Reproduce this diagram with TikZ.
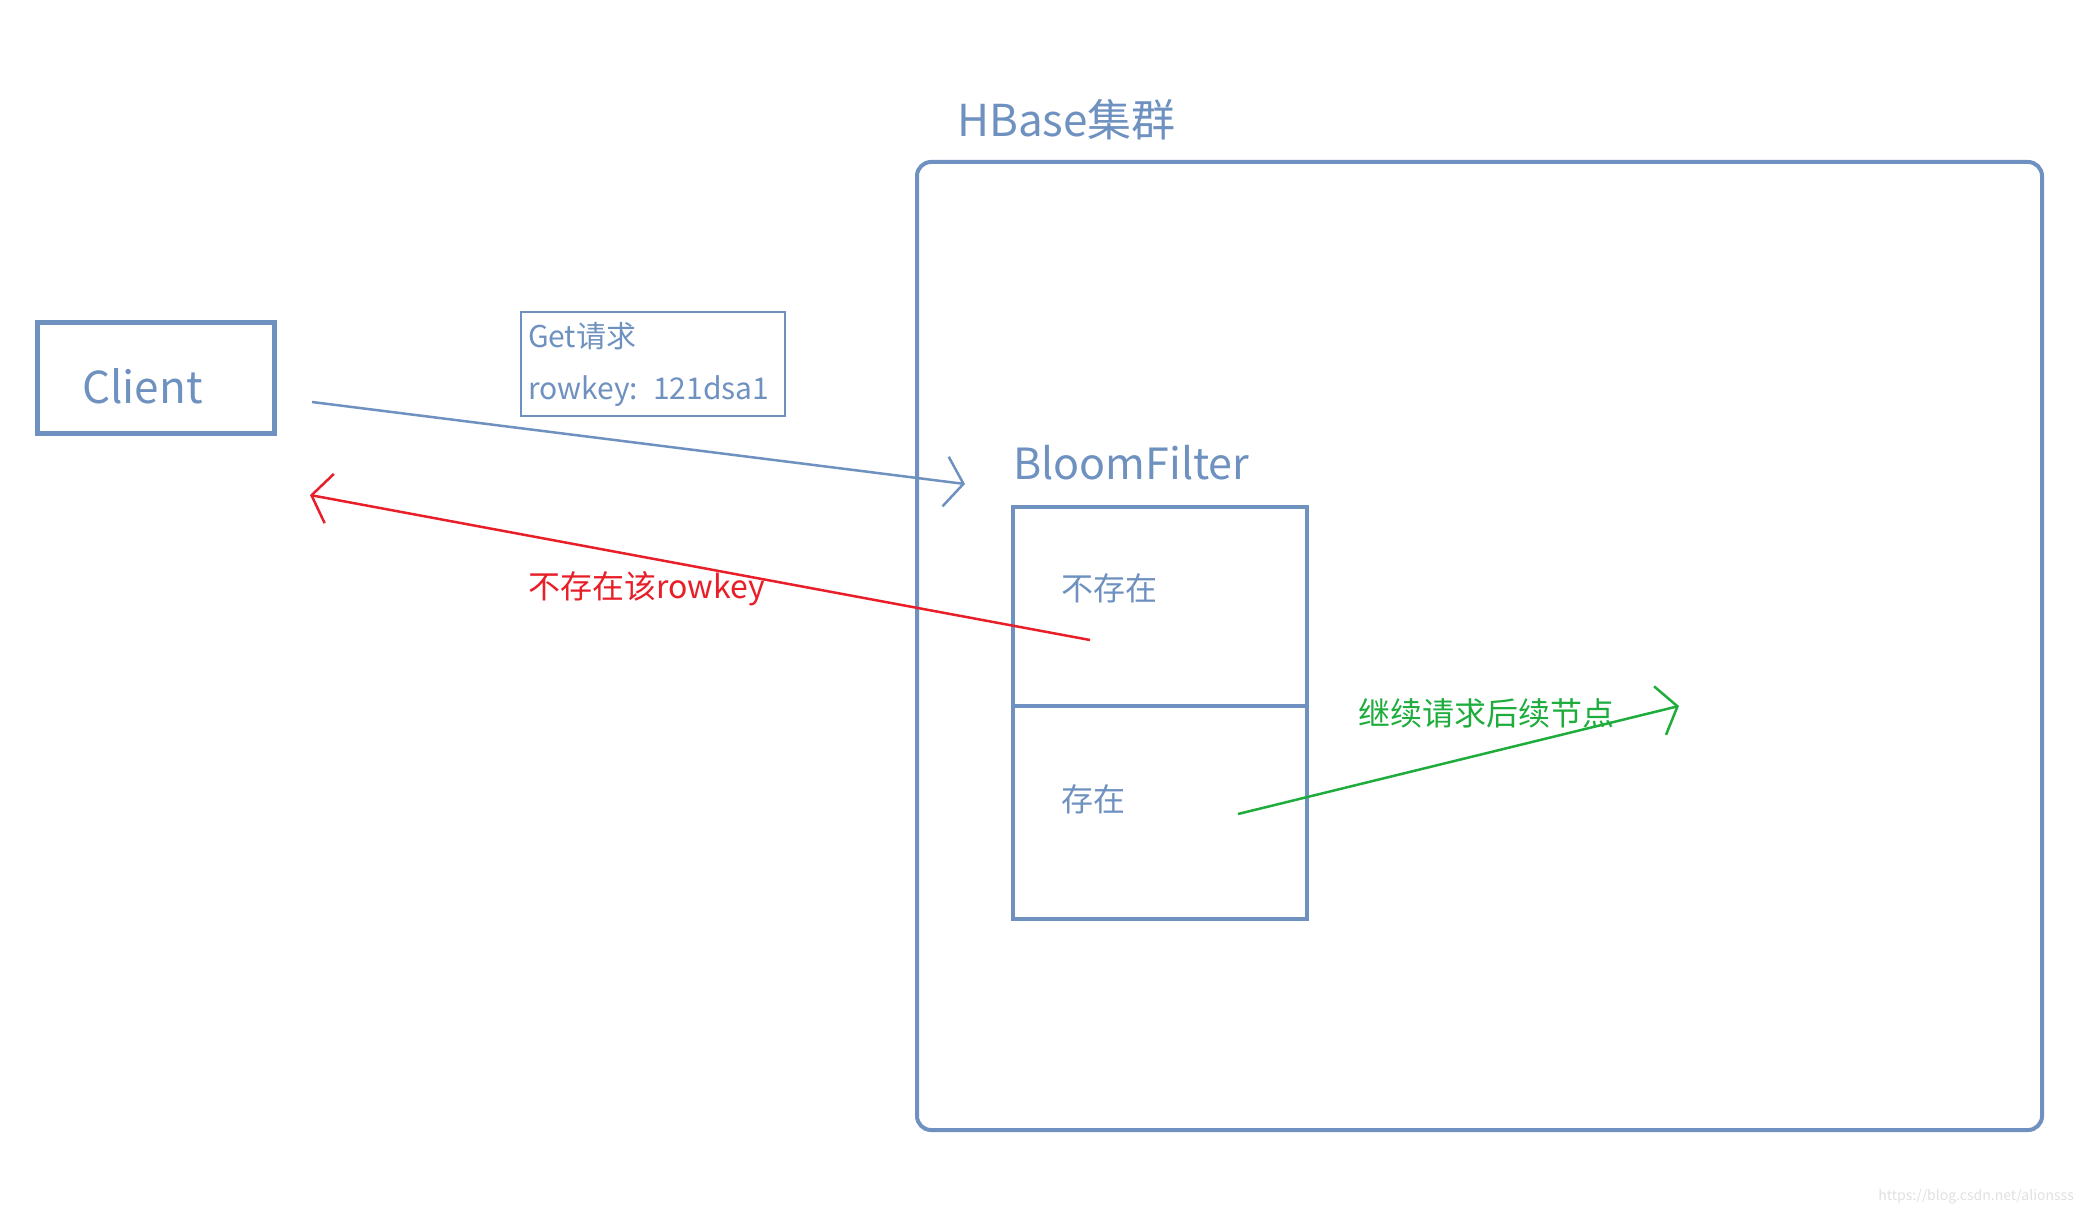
\documentclass[tikz,border=0pt]{standalone}
\usepackage{fontspec}
\setmainfont{Noto Sans CJK SC}
\usetikzlibrary{arrows.meta, positioning}
\definecolor{hbblue}{RGB}{110, 145, 192}
\definecolor{missred}{RGB}{232, 30, 40}
\definecolor{hitgreen}{RGB}{30, 172, 60}
\tikzset{
  frame/.style={draw=hbblue, inner sep=0pt, outer sep=0pt},
  bigtxt/.style={text=hbblue, inner sep=0pt, font=\fontsize{44}{50}\selectfont},
  smalltxt/.style={inner sep=0pt, font=\fontsize{32}{38}\selectfont},
  barb/.style={-{Straight Barb[length=18pt, width=50pt]}, line width=2.5pt}
}

\begin{document}
\begin{tikzpicture}[x=1pt, y=-1pt]
  \useasboundingbox (0,0) rectangle (2085,1214);

  % client side
  \node[frame, line width=5pt, minimum width=237pt, minimum height=110pt] (client) at (155.5,378) {};
  \node[bigtxt, anchor=base west, font=\fontsize{44}{50}\selectfont] (clientname) at (82,403) {Client};

  \node[frame, line width=2.5pt, text=hbblue, text width=250pt, align=left, inner xsep=7pt, inner ysep=10pt,
        font=\fontsize{30}{52}\selectfont] (getreq) at (653,364) {Get请求\\rowkey: 121dsa1};

  % cluster
  \node[bigtxt, anchor=base west] (clustername) at (957,137) {HBase集群};
  \node[frame, line width=4pt, rounded corners=14pt, minimum width=1125pt, minimum height=968pt] (cluster) at (1479.5,646) {};

  \node[bigtxt, anchor=base west, font=\fontsize{43}{50}\selectfont] (bfname) at (1013,479) {BloomFilter};
  \node[frame, line width=4pt, minimum width=294pt, minimum height=199pt] (bfno) at (1160,606.5) {};
  \node[frame, line width=4pt, minimum width=294pt, minimum height=213pt, below=0pt of bfno] (bfyes) {};
  \node[smalltxt, text=hbblue, anchor=west] (notxt) at (1061,588) {不存在};
  \node[smalltxt, text=hbblue, anchor=west] (yestxt) at (1061,799) {存在};

  % arrows
  \coordinate (reqstart) at (312,402);
  \coordinate (reqend) at (965,484);
  \coordinate (missstart) at (1090,640);
  \coordinate (missend) at (310,495);
  \coordinate (hitstart) at (1238,814);
  \coordinate (hitend) at (1679,706);

  \draw[barb, draw=hbblue] (reqstart) -- (reqend);
  \draw[barb, draw=missred] (missstart) -- (missend);
  \draw[barb, draw=hitgreen] (hitstart) -- (hitend);

  \node[smalltxt, text=missred, anchor=west] (misslabel) at (528,589) {不存在该rowkey};
  \node[smalltxt, text=hitgreen, anchor=west] (hitlabel) at (1358,713) {继续请求后续节点};

  \node[inner sep=0pt, anchor=east, text=black!12, font=\fontsize{14}{16}\selectfont] (mark) at (2074,1197) {https://blog.csdn.net/alionsss};
\end{tikzpicture}
\end{document}
